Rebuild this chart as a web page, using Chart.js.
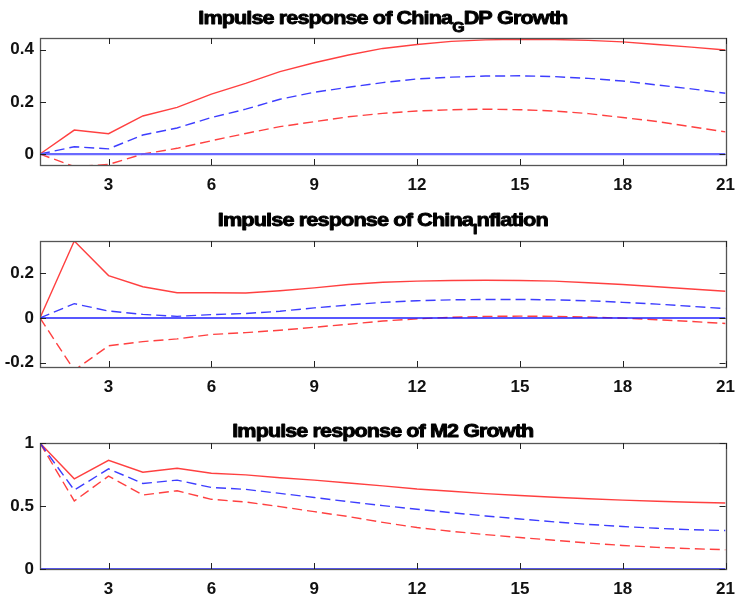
<!DOCTYPE html>
<html>
<head>
<meta charset="utf-8">
<script src="https://cdn.jsdelivr.net/npm/chart.js@4.4.0/dist/chart.umd.min.js"></script>
<style>
html,body{margin:0;padding:0;background:#fff;}
body{width:745px;height:595px;position:relative;overflow:hidden;}
.box{position:absolute;left:0;width:745px;}
</style>
</head>
<body>
<div class="box" style="top:0;height:200px"><canvas id="c1"></canvas></div>
<div class="box" style="top:200px;height:200px"><canvas id="c2"></canvas></div>
<div class="box" style="top:400px;height:195px"><canvas id="c3"></canvas></div>
<script>
// ---- data ----
const horizons = [1,2,3,4,5,6,7,8,9,10,11,12,13,14,15,16,17,18,19,20,21];
const xTickValues = [3,6,9,12,15,18,21];
const zeroLine = [0,0,0,0,0,0,0,0,0,0,0,0,0,0,0,0,0,0,0,0,0];

const gdpUpper  = [0,0.092,0.078,0.146,0.179,0.23,0.271,0.316,0.35,0.38,0.405,0.42,0.432,0.438,0.44,0.439,0.436,0.43,0.42,0.41,0.399];
const gdpMedian = [0,0.028,0.02,0.073,0.10,0.14,0.172,0.21,0.237,0.256,0.274,0.288,0.295,0.299,0.30,0.297,0.29,0.28,0.265,0.25,0.233];
const gdpLower  = [0,-0.048,-0.040,0.0,0.022,0.051,0.079,0.105,0.124,0.143,0.156,0.165,0.17,0.172,0.17,0.165,0.155,0.14,0.125,0.105,0.085];
const gdpTicks  = [0,0.2,0.4];

const infUpper  = [0,0.345,0.19,0.14,0.113,0.113,0.112,0.122,0.135,0.15,0.16,0.165,0.168,0.169,0.168,0.165,0.158,0.15,0.14,0.13,0.12];
const infMedian = [0,0.064,0.031,0.016,0.007,0.015,0.02,0.03,0.045,0.058,0.07,0.077,0.081,0.083,0.083,0.081,0.077,0.07,0.062,0.052,0.042];
const infLower  = [0,-0.235,-0.125,-0.106,-0.094,-0.074,-0.066,-0.055,-0.042,-0.028,-0.014,-0.004,0.003,0.007,0.008,0.007,0.004,-0.001,-0.008,-0.016,-0.025];
const infTicks  = [-0.2,0,0.2];

const m2Upper  = [1,0.716,0.863,0.768,0.8,0.76,0.747,0.724,0.705,0.683,0.66,0.635,0.617,0.598,0.583,0.57,0.558,0.547,0.538,0.53,0.524];
const m2Median = [1,0.626,0.795,0.679,0.705,0.647,0.632,0.6,0.568,0.534,0.503,0.474,0.447,0.421,0.397,0.374,0.354,0.337,0.323,0.312,0.305];
const m2Lower  = [1,0.54,0.737,0.587,0.621,0.553,0.532,0.495,0.455,0.416,0.37,0.329,0.299,0.273,0.25,0.228,0.206,0.187,0.172,0.161,0.153];
const m2Ticks  = [0,0.5,1];

// ---- helpers ----
const FONT = "'Liberation Sans', Arial, sans-serif";

const boxPlugin = {
  id: 'matlabBox',
  afterDraw(chart) {
    const {ctx, chartArea: a, scales} = chart;
    ctx.save();
    ctx.strokeStyle = '#555';
    ctx.lineWidth = 1.3;
    ctx.strokeRect(Math.round(a.left)+0.5, Math.round(a.top)+0.5, Math.round(a.right-a.left), Math.round(a.bottom-a.top));
    const tl = 6;
    ctx.strokeStyle = '#222';
    ctx.lineWidth = 1;
    ctx.beginPath();
    xTickValues.forEach(v => {
      const px = Math.round(scales.x.getPixelForValue(v)) + 0.5;
      ctx.moveTo(px, a.bottom); ctx.lineTo(px, a.bottom - tl);
      ctx.moveTo(px, a.top); ctx.lineTo(px, a.top + tl);
    });
    (chart.options.plugins.matlabBox.yTicks || []).forEach(v => {
      const py = Math.round(scales.y.getPixelForValue(v)) + 0.5;
      ctx.moveTo(a.left, py); ctx.lineTo(a.left + tl, py);
      ctx.moveTo(a.right, py); ctx.lineTo(a.right - tl, py);
    });
    ctx.stroke();
    // title with subscript, heavy and condensed spacing
    const t = chart.options.plugins.matlabBox;
    const parts = t.parts;
    const big = "bold 19px " + FONT, small = "bold 14px " + FONT;
    ctx.letterSpacing = '-0.8px';
    let total = 0;
    parts.forEach(p => { ctx.font = p[1] ? small : big; total += ctx.measureText(p[0]).width; });
    const sx = t.targetWidth / total;
    const cx = (a.left + a.right) / 2;
    ctx.translate(cx - t.targetWidth / 2, 0);
    ctx.scale(sx, 1);
    let x = 0;
    ctx.fillStyle = '#000';
    ctx.strokeStyle = '#000';
    ctx.lineWidth = 0.9;
    ctx.lineJoin = 'round';
    ctx.textBaseline = 'alphabetic';
    ctx.textAlign = 'left';
    parts.forEach(p => {
      ctx.font = p[1] ? small : big;
      const yy = t.baseline + (p[1] ? 8 : 0);
      ctx.fillText(p[0], x, yy);
      ctx.strokeText(p[0], x, yy);
      x += ctx.measureText(p[0]).width;
    });
    ctx.restore();
  }
};

function makeChart(id, upper, median, lower, yMin, yMax, yTicks, opts) {
  const ds = [
    {data: zeroLine, borderColor: opts.zeroColor, borderWidth: opts.zeroWidth, borderDash: []},
    {data: median, borderColor: 'rgba(40,40,255,0.9)', borderWidth: 1.4, borderDash: [10,5]},
    {data: lower, borderColor: 'rgba(255,30,30,0.85)', borderWidth: 1.4, borderDash: [10,5]},
    {data: upper, borderColor: 'rgba(255,30,30,0.85)', borderWidth: 1.4, borderDash: []}
  ].map(d => Object.assign({pointRadius: 0, tension: 0, fill: false}, d));
  return new Chart(document.getElementById(id), {
    type: 'line',
    data: {labels: horizons, datasets: ds},
    options: {
      responsive: true,
      maintainAspectRatio: false,
      animation: false,
      events: [],
      layout: {padding: {top: opts.padTop, right: 9, left: 0, bottom: 0}},
      plugins: {
        legend: {display: false},
        tooltip: {enabled: false},
        matlabBox: {parts: opts.parts, baseline: opts.baseline, yTicks: yTicks, targetWidth: opts.titleWidth}
      },
      scales: {
        x: {
          type: 'linear', min: 1, max: 21,
          grid: {display: false, drawTicks: false},
          border: {display: false},
          afterBuildTicks: s => { s.ticks = xTickValues.map(v => ({value: v})); },
          afterFit: s => { s.height = opts.xHeight; },
          ticks: {color: '#111', padding: 10, font: {family: FONT, size: 17, weight: 'bold'}, maxRotation: 0, autoSkip: false,
                  callback: v => String(v)}
        },
        y: {
          min: yMin, max: yMax,
          grid: {display: false, drawTicks: false},
          border: {display: false},
          afterBuildTicks: s => { s.ticks = yTicks.map(v => ({value: v})); },
          afterFit: s => { s.width = 40; },
          ticks: {color: '#111', padding: 6, font: {family: FONT, size: 17, weight: 'bold'},
                  callback: v => String(v)}
        }
      }
    },
    plugins: [boxPlugin]
  });
}

makeChart('c1', gdpUpper, gdpMedian, gdpLower, -0.042, 0.445, gdpTicks,
  {padTop: 38, xHeight: 35, baseline: 24, titleWidth: 369, zeroColor: 'rgba(90,90,255,0.9)', zeroWidth: 2.2,
   parts: [['Impulse response of China', false], ['G', true], ['DP Growth', false]]});
makeChart('c2', infUpper, infMedian, infLower, -0.22, 0.345, infTicks,
  {padTop: 41, xHeight: 33, baseline: 26, titleWidth: 330, zeroColor: 'rgba(20,20,255,0.95)', zeroWidth: 1.4,
   parts: [['Impulse response of China', false], ['I', true], ['nflation', false]]});
makeChart('c3', m2Upper, m2Median, m2Lower, 0, 1, m2Ticks,
  {padTop: 43, xHeight: 26, baseline: 36.5, titleWidth: 301, zeroColor: 'rgba(20,20,255,0.95)', zeroWidth: 1.6,
   parts: [['Impulse response of M2 Growth', false]]});
</script>
</body>
</html>
